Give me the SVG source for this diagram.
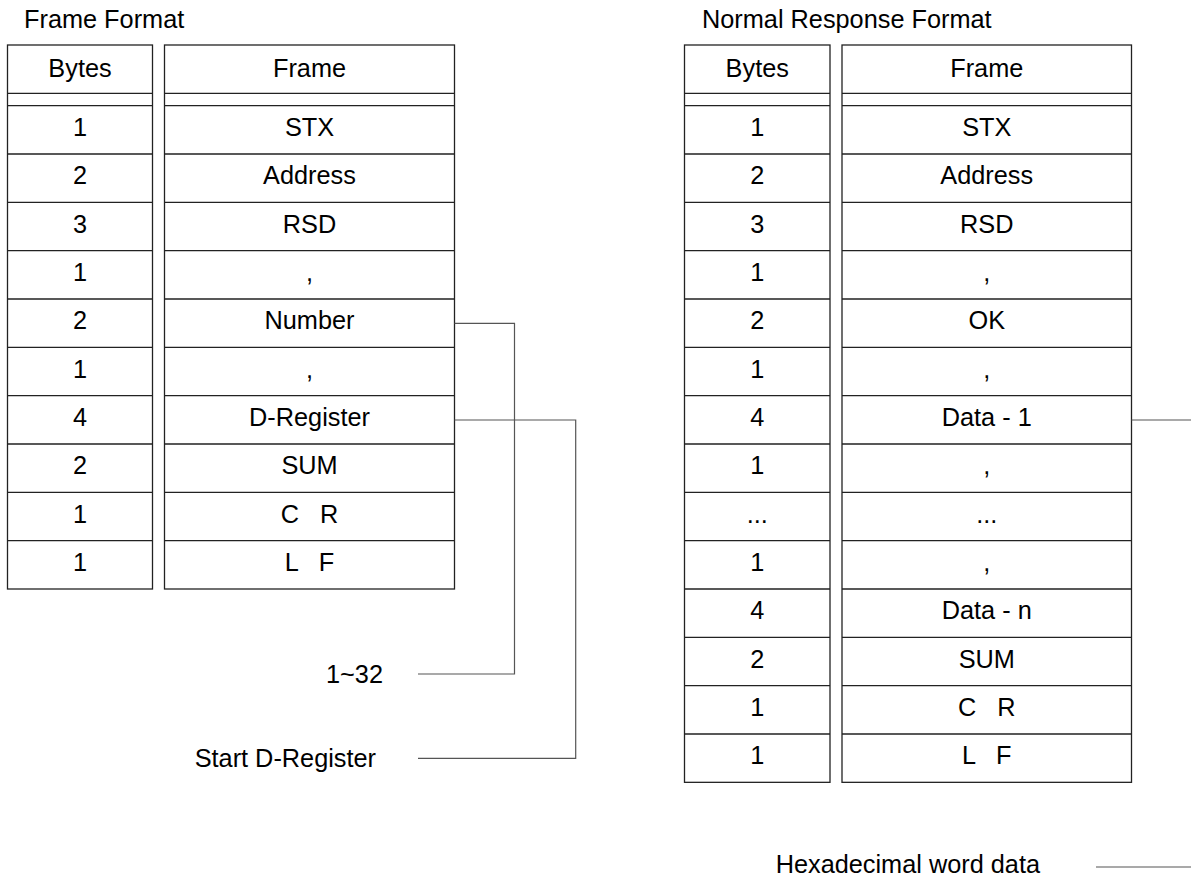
<svg xmlns="http://www.w3.org/2000/svg" width="1191" height="877" viewBox="0 0 1191 877">
<style>
text{font-family:"Liberation Sans",Arial,sans-serif;font-size:25.3px;fill:#000;}
.c{text-anchor:middle;}
.e{text-anchor:end;}
.tb{fill:none;stroke:#222;stroke-width:1.3;}
.cn{fill:none;stroke:#555;stroke-width:1.2;}
</style>
<rect width="1191" height="877" fill="#fff"/>
<text id="title-left" x="24" y="28">Frame Format</text>
<text id="title-right" x="702" y="28">Normal Response Format</text>

<g id="table-left">
  <rect class="tb" x="7.5" y="45" width="145" height="544"/>
  <rect class="tb" x="164.5" y="45" width="290" height="544"/>
  <path class="tb" d="M7.5 93.33H152.5M164.5 93.33H454.5M7.5 105.67H152.5M164.5 105.67H454.5
  M7.5 154H152.5M164.5 154H454.5M7.5 202.33H152.5M164.5 202.33H454.5M7.5 250.67H152.5M164.5 250.67H454.5
  M7.5 299H152.5M164.5 299H454.5M7.5 347.33H152.5M164.5 347.33H454.5M7.5 395.67H152.5M164.5 395.67H454.5
  M7.5 444H152.5M164.5 444H454.5M7.5 492.33H152.5M164.5 492.33H454.5M7.5 540.67H152.5M164.5 540.67H454.5"/>
  <g id="l-hdr"><text class="c" x="80" y="76.5">Bytes</text><text class="c" x="309.5" y="76.5">Frame</text></g>
  <g id="l-r1"><text class="c" x="80" y="136">1</text><text class="c" x="309.5" y="136">STX</text></g>
  <g id="l-r2"><text class="c" x="80" y="184.33">2</text><text class="c" x="309.5" y="184.33">Address</text></g>
  <g id="l-r3"><text class="c" x="80" y="232.67">3</text><text class="c" x="309.5" y="232.67">RSD</text></g>
  <g id="l-r4"><text class="c" x="80" y="281">1</text><text class="c" x="309.5" y="281">,</text></g>
  <g id="l-r5"><text class="c" x="80" y="329.33">2</text><text class="c" x="309.5" y="329.33">Number</text></g>
  <g id="l-r6"><text class="c" x="80" y="377.67">1</text><text class="c" x="309.5" y="377.67">,</text></g>
  <g id="l-r7"><text class="c" x="80" y="426">4</text><text class="c" x="309.5" y="426">D-Register</text></g>
  <g id="l-r8"><text class="c" x="80" y="474.33">2</text><text class="c" x="309.5" y="474.33">SUM</text></g>
  <g id="l-r9"><text class="c" x="80" y="522.67">1</text><text class="c" x="309.5" y="522.67" xml:space="preserve">C   R</text></g>
  <g id="l-r10"><text class="c" x="80" y="571">1</text><text class="c" x="309.5" y="571" xml:space="preserve">L   F</text></g>
</g>

<g id="table-right">
  <rect class="tb" x="684.5" y="45" width="145.5" height="737.33"/>
  <rect class="tb" x="842" y="45" width="289.5" height="737.33"/>
  <path class="tb" d="M684.5 93.33H830M842 93.33H1131.5M684.5 105.67H830M842 105.67H1131.5
  M684.5 154H830M842 154H1131.5M684.5 202.33H830M842 202.33H1131.5M684.5 250.67H830M842 250.67H1131.5
  M684.5 299H830M842 299H1131.5M684.5 347.33H830M842 347.33H1131.5M684.5 395.67H830M842 395.67H1131.5
  M684.5 444H830M842 444H1131.5M684.5 492.33H830M842 492.33H1131.5M684.5 540.67H830M842 540.67H1131.5
  M684.5 589H830M842 589H1131.5M684.5 637.33H830M842 637.33H1131.5M684.5 685.67H830M842 685.67H1131.5
  M684.5 734H830M842 734H1131.5"/>
  <g id="r-hdr"><text class="c" x="757.25" y="76.5">Bytes</text><text class="c" x="986.75" y="76.5">Frame</text></g>
  <g id="r-r1"><text class="c" x="757.25" y="136">1</text><text class="c" x="986.75" y="136">STX</text></g>
  <g id="r-r2"><text class="c" x="757.25" y="184.33">2</text><text class="c" x="986.75" y="184.33">Address</text></g>
  <g id="r-r3"><text class="c" x="757.25" y="232.67">3</text><text class="c" x="986.75" y="232.67">RSD</text></g>
  <g id="r-r4"><text class="c" x="757.25" y="281">1</text><text class="c" x="986.75" y="281">,</text></g>
  <g id="r-r5"><text class="c" x="757.25" y="329.33">2</text><text class="c" x="986.75" y="329.33">OK</text></g>
  <g id="r-r6"><text class="c" x="757.25" y="377.67">1</text><text class="c" x="986.75" y="377.67">,</text></g>
  <g id="r-r7"><text class="c" x="757.25" y="426">4</text><text class="c" x="986.75" y="426">Data - 1</text></g>
  <g id="r-r8"><text class="c" x="757.25" y="474.33">1</text><text class="c" x="986.75" y="474.33">,</text></g>
  <g id="r-r9"><text class="c" x="757.25" y="522.67">...</text><text class="c" x="986.75" y="522.67">...</text></g>
  <g id="r-r10"><text class="c" x="757.25" y="571">1</text><text class="c" x="986.75" y="571">,</text></g>
  <g id="r-r11"><text class="c" x="757.25" y="619.33">4</text><text class="c" x="986.75" y="619.33">Data - n</text></g>
  <g id="r-r12"><text class="c" x="757.25" y="667.67">2</text><text class="c" x="986.75" y="667.67">SUM</text></g>
  <g id="r-r13"><text class="c" x="757.25" y="716">1</text><text class="c" x="986.75" y="716" xml:space="preserve">C   R</text></g>
  <g id="r-r14"><text class="c" x="757.25" y="764.33">1</text><text class="c" x="986.75" y="764.33" xml:space="preserve">L   F</text></g>
</g>

<g id="label-range"><text class="e" x="383" y="682.5">1~32</text></g>
<g id="label-start"><text class="e" x="376" y="766.5">Start D-Register</text></g>
<g id="label-hex"><text class="e" x="1040" y="873.3">Hexadecimal word data</text></g>

<g id="connectors">
  <polyline class="cn" points="454.5,323.3 514.5,323.3 514.5,674 418,674"/>
  <polyline class="cn" points="454.5,420 575.7,420 575.7,758.3 418,758.3"/>
  <polyline class="cn" points="1131.5,420 1191,420"/>
  <polyline class="cn" points="1096,867 1191,867"/>
</g>
</svg>
